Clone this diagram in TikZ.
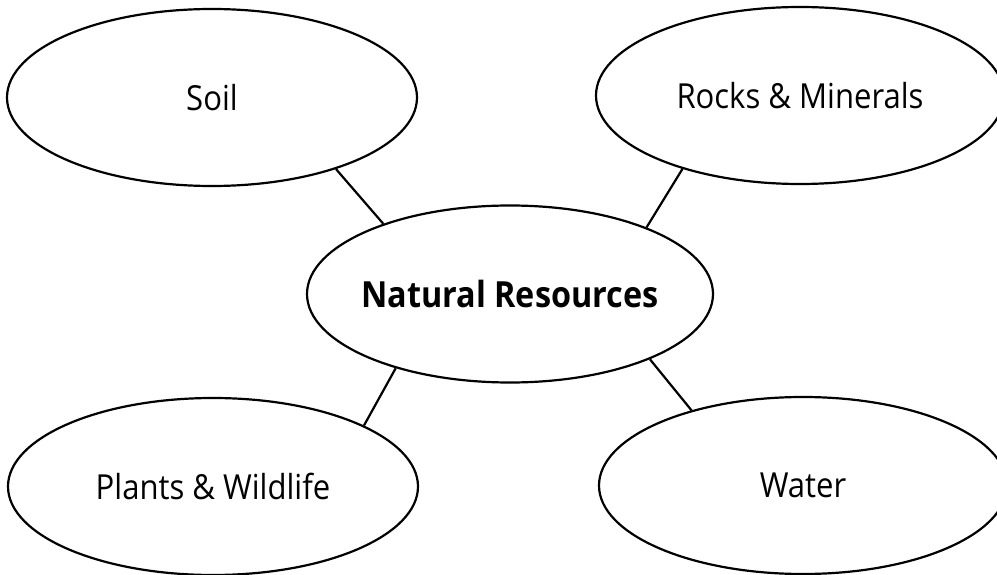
\documentclass[tikz,border=0pt]{standalone}
\usepackage{fontspec}
\setmainfont{Open Sans}[FakeStretch=0.9]
\usetikzlibrary{shapes.geometric}
\begin{document}
\begin{tikzpicture}[x=1pt,y=-1pt,
  bubble/.style={ellipse,draw=black,line width=2.2pt,inner sep=0pt,
    minimum width=410pt,minimum height=177pt,font=\fontsize{34.5}{40}\selectfont},
  hub/.style={bubble,minimum width=406pt,font=\bfseries\fontsize{36}{42}\selectfont},
  link/.style={line width=2.2pt}]
\useasboundingbox (0,0) rectangle (997,575);
\node[hub] (nr) at (510,294) {\makebox[0pt]{Natural Resources}};
\node[bubble] (soil) at (212,97.5) {Soil};
\node[bubble,minimum width=408pt] (rocks) at (800,95.5) {Rocks \& Minerals};
\node[bubble] (plants) at (213,486.5) {Plants \& Wildlife};
\node[bubble,minimum width=408pt] (water) at (803,485.5) {Water};
\draw[link] (soil.-30) -- (nr.151.7);
\draw[link] (rocks.212.3) -- (nr.26.6);
\draw[link] (nr.213.6) -- (plants.22.6);
\draw[link] (nr.-25.4) -- (water.146.8);
\end{tikzpicture}
\end{document}
